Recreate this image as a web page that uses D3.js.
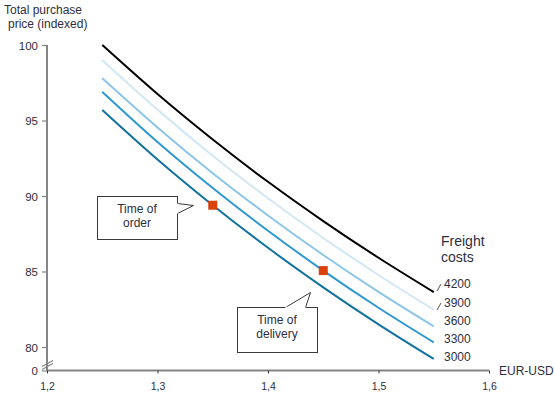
<!DOCTYPE html>
<html><head><meta charset="utf-8">
<script src="https://cdn.jsdelivr.net/npm/d3@7"></script>
<style>
body{margin:0;background:#fff;}
text{font-family:"Liberation Sans",Arial,sans-serif;fill:#2e2e3e;}
</style></head>
<body><svg id="c" width="554" height="398"></svg>
<script>
// Data
const rates = [1.25, 1.30, 1.35, 1.40, 1.45, 1.50, 1.55];
const freight4200 = [100.0, 96.75, 93.74, 90.94, 88.34, 85.91, 83.64];
const freight3900 = [99.0, 95.72, 92.67, 89.85, 87.22, 84.77, 82.47];
const freight3600 = [97.8, 94.54, 91.51, 88.71, 86.09, 83.65, 81.37];
const freight3300 = [96.9, 93.58, 90.53, 87.70, 85.06, 82.60, 80.31];
const freight3000 = [95.7, 92.42, 89.39, 86.57, 83.95, 81.50, 79.21];
const seriesNames = ["4200", "3900", "3600", "3300", "3000"];
const xTicks = [1.2, 1.3, 1.4, 1.5, 1.6];
const yTicks = [0, 80, 85, 90, 95, 100];
const markerRates = [1.35, 1.45];
const markerValues = [89.39, 85.06];
const markerLabels = [["Time of", "order"], ["Time of", "delivery"]];

const seriesValues = [freight4200, freight3900, freight3600, freight3300, freight3000];
const colors = ["#000000", "#d2e7f5", "#8cc5e7", "#2f98d0", "#11719f"];

const svg = d3.select("#c");
const x = d3.scaleLinear().domain([1.2, 1.6]).range([47, 489]);
// broken axis: 0 at bottom, linear 79..100 above the break
const y = d3.scaleLinear().domain([0, 79, 100]).range([370.5, 362.1, 45]);

// Axes
const yAxis = d3.axisLeft(y).tickValues(yTicks).tickSize(5).tickPadding(4).tickFormat(d3.format("d"));
const gy = svg.append("g").attr("transform", "translate(47,0)").call(yAxis);
gy.select(".domain").attr("stroke", "#858585").attr("stroke-width", 2).attr("d", `M0,${y(100)}V${y(0)}`);
gy.selectAll(".tick line").attr("stroke", "#858585").attr("stroke-width", 1.2);
gy.selectAll(".tick text").style("font-size", "11.5px").attr("dy", "0.35em");

const xAxis = d3.axisBottom(x).tickValues(xTicks).tickSize(3).tickPadding(9)
  .tickFormat(d => d.toFixed(1).replace(".", ","));
const gx = svg.append("g").attr("transform", `translate(0,${y(0)})`).call(xAxis);
gx.select(".domain").attr("stroke", "#858585").attr("stroke-width", 2).attr("d", `M${x(1.2)},0H${x(1.6)}`);
gx.selectAll(".tick line").attr("stroke", "#333").attr("stroke-width", 1);
gx.selectAll(".tick text").style("font-size", "10.5px");

// axis break marks
const bk = svg.append("g").attr("stroke", "#858585").attr("stroke-width", 1.3);
bk.append("line").attr("x1", 42).attr("y1", y(0) - 4).attr("x2", 53).attr("y2", y(0) - 10);
bk.append("line").attr("x1", 42).attr("y1", y(0) - 1).attr("x2", 53).attr("y2", y(0) - 7);

// Titles
svg.append("text").attr("x", 4).attr("y", 14).style("font-size", "12px").text("Total purchase");
svg.append("text").attr("x", 8).attr("y", 28).style("font-size", "12px").text("price (indexed)");
svg.append("text").attr("x", 499).attr("y", y(0) + 4).style("font-size", "12px").text("EUR-USD");

// Lines
const line = d3.line().x((d, i) => x(rates[i])).y(d => y(d)).curve(d3.curveMonotoneX);
seriesValues.forEach((vals, k) => {
  svg.append("path").datum(vals).attr("d", line).attr("fill", "none")
    .attr("stroke", colors[k]).attr("stroke-width", 2);
});

// Legend labels
svg.append("text").attr("x", 441).attr("y", 246).style("font-size", "14px").text("Freight");
svg.append("text").attr("x", 441).attr("y", 262).style("font-size", "14px").text("costs");
const labelY = [288, 307, 325, 343, 361];
seriesNames.forEach((n, k) => {
  svg.append("text").attr("x", 444).attr("y", labelY[k]).style("font-size", "12px").text(n);
});
// leader marks
[0, 1].forEach(k => {
  svg.append("line").attr("x1", 437).attr("y1", labelY[k] + 3).attr("x2", 441).attr("y2", labelY[k] - 4)
    .attr("stroke", "#777").attr("stroke-width", 1.2);
});

// Callouts
const boxes = [
  {x0: 97, y0: 196, w: 80, h: 43, poly: [[177, 203], [193, 205], [177, 213]]},
  {x0: 237, y0: 307, w: 80, h: 45, poly: [[285, 307], [310, 292], [305, 307]]}
];
boxes.forEach((b, i) => {
  svg.append("rect").attr("x", b.x0 + 0.5).attr("y", b.y0 + 0.5).attr("width", b.w).attr("height", b.h)
    .attr("fill", "#fff").attr("stroke", "#3a3a3a").attr("stroke-width", 1);
  svg.append("path").attr("d", d3.line()(b.poly.map(p => [p[0] + 0.5, p[1] + 0.5])))
    .attr("fill", "#fff").attr("stroke", "#3a3a3a").attr("stroke-width", 1);
  const p0 = b.poly[0], p2 = b.poly[2];
  svg.append("line").attr("x1", p0[0] + 0.5).attr("y1", p0[1] + 0.5).attr("x2", p2[0] + 0.5).attr("y2", p2[1] + 0.5)
    .attr("stroke", "#fff").attr("stroke-width", 1.5);
  markerLabels[i].forEach((t, j) => {
    svg.append("text").attr("x", b.x0 + b.w / 2).attr("y", b.y0 + 17 + j * 14)
      .attr("text-anchor", "middle").style("font-size", "12px").text(t);
  });
});

// Markers
markerRates.forEach((r, i) => {
  svg.append("rect").attr("x", x(r) - 4.5).attr("y", y(markerValues[i]) - 4.5)
    .attr("width", 9).attr("height", 9).attr("fill", "#d9420b");
});
</script></body></html>
